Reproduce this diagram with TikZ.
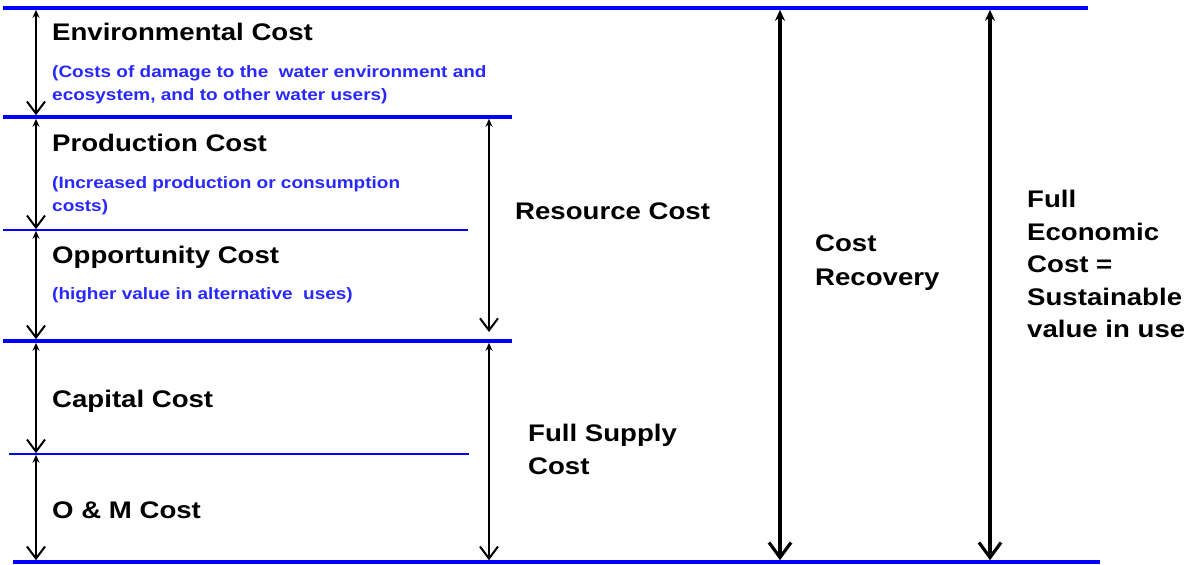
\documentclass[tikz,border=0pt]{standalone}
\usepackage{fontspec}
\setmainfont{Liberation Sans}[FakeStretch=1.15]
\usetikzlibrary{arrows.meta}
\definecolor{lineblue}{RGB}{0,0,255}
\definecolor{txtblue}{RGB}{40,40,255}
\begin{document}
\begin{tikzpicture}[x=1pt,y=-1pt,
 title/.style={anchor=base west, inner sep=0pt, font=\fontsize{24}{28}\selectfont\bfseries},
 note/.style={anchor=base west, inner sep=0pt, text=txtblue, font=\fontsize{16.5}{20}\selectfont\bfseries},
 thickline/.style={lineblue, line width=3.5pt},
 thinline/.style={lineblue, line width=1.5pt},
 dimarrow/.style={line width=2pt, {Stealth[length=8pt,width=7pt]}-{Straight Barb[length=12pt,width=18pt]}},
 bigarrow/.style={line width=3.2pt, {Stealth[length=11pt,width=10pt]}-{Straight Barb[length=15pt,width=22pt]}},
]
\useasboundingbox (0,0) rectangle (1184,565);

% level lines
\coordinate (t0) at (3,8);    \coordinate (t1) at (1088,8);
\coordinate (e0) at (3,117);  \coordinate (e1) at (512,117);
\coordinate (p0) at (3,230);  \coordinate (p1) at (468,230);
\coordinate (o0) at (3,341);  \coordinate (o1) at (512,341);
\coordinate (c0) at (9,454);  \coordinate (c1) at (469,454);
\coordinate (b0) at (13,562); \coordinate (b1) at (1100,562);
\draw[thickline] (t0) -- (t1);
\draw[thickline] (e0) -- (e1);
\draw[thinline]  (p0) -- (p1);
\draw[thickline] (o0) -- (o1);
\draw[thinline]  (c0) -- (c1);
\draw[thickline] (b0) -- (b1);

% arrow ends
\coordinate (l1s) at (36,9.8);   \coordinate (l1e) at (36,115.2);
\coordinate (l2s) at (36,118.8); \coordinate (l2e) at (36,229.2);
\coordinate (l3s) at (36,230.8); \coordinate (l3e) at (36,339.2);
\coordinate (l4s) at (36,342.8); \coordinate (l4e) at (36,453.2);
\coordinate (l5s) at (36,454.8); \coordinate (l5e) at (36,560.2);
\coordinate (rcs) at (489,118.8); \coordinate (rce) at (489,332);
\coordinate (fss) at (489,342.8); \coordinate (fse) at (489,560.2);
\coordinate (crs) at (780,9.8);  \coordinate (cre) at (780,560.2);
\coordinate (fes) at (990,9.8);  \coordinate (fee) at (990,560.2);
\draw[dimarrow] (l1s) -- (l1e);
\draw[dimarrow] (l2s) -- (l2e);
\draw[dimarrow] (l3s) -- (l3e);
\draw[dimarrow] (l4s) -- (l4e);
\draw[dimarrow] (l5s) -- (l5e);
\draw[dimarrow] (rcs) -- (rce);
\draw[dimarrow] (fss) -- (fse);
\draw[bigarrow] (crs) -- (cre);
\draw[bigarrow] (fes) -- (fee);

% left labels
\node[title] (env) at (52,40) {Environmental Cost};
\node[note] (envn1) at (52,77) {(Costs of damage to the\ \ water environment and};
\node[note] (envn2) at (52,100) {ecosystem, and to other water users)};
\node[title] (prod) at (52,151.5) {Production Cost};
\node[note] (prodn1) at (52,188) {(Increased production or consumption};
\node[note] (prodn2) at (52,211) {costs)};
\node[title] (opp) at (52,263) {Opportunity Cost};
\node[note] (oppn) at (52,299) {(higher value in alternative\ \ uses)};
\node[title] (cap) at (52,407) {Capital Cost};
\node[title] (om) at (52,518) {O \& M Cost};

% right labels
\node[title] (res) at (515,219) {Resource Cost};
\node[title] (fs1) at (528,441.5) {Full Supply};
\node[title] (fs2) at (528,474.5) {Cost};
\node[title] (cr1) at (815,251) {Cost};
\node[title] (cr2) at (815,285) {Recovery};
\node[title] (fe1) at (1027,207) {Full};
\node[title] (fe2) at (1027,240) {Economic};
\node[title] (fe3) at (1027,272) {Cost =};
\node[title] (fe4) at (1027,305) {Sustainable};
\node[title] (fe5) at (1027,337) {value in use};
\end{tikzpicture}
\end{document}
